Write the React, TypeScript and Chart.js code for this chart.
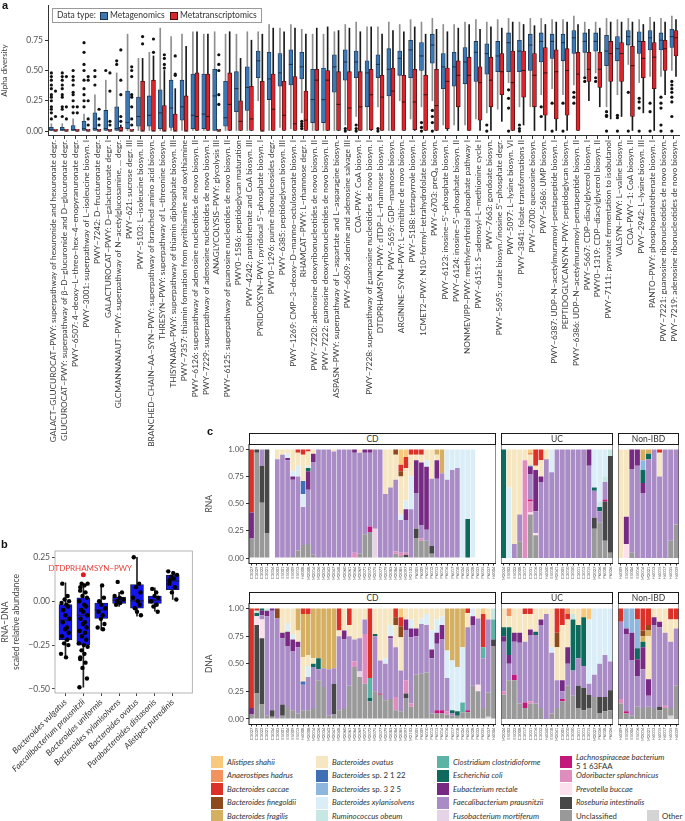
import React, { useEffect, useRef } from "react";
import { Chart, registerables } from "chart.js";

Chart.register(...registerables);
const FONT = "Lato, 'Open Sans', 'DejaVu Sans', sans-serif";
Chart.defaults.font.family = FONT;

// ================= Panel a data =================
const pathways = [
  "GALACT−GLUCUROCAT−PWY: superpathway of hexuronide and hexuronate degr.",
  "GLUCUROCAT−PWY: superpathway of β−D−glucuronide and D−glucuronate degr.",
  "PWY−6507: 4−deoxy−L−threo−hex−4−enopyranuronate degr.",
  "PWY−3001: superpathway of L−isoleucine biosyn. I",
  "PWY−7242: D−fructuronate degr.",
  "GALACTUROCAT−PWY: D−galacturonate degr. I",
  "GLCMANNANAUT−PWY: superpathway of N−acetylglucosamine, ... degr.",
  "PWY−621: sucrose degr. III",
  "PWY−5103: L−isoleucine biosyn. III",
  "BRANCHED−CHAIN−AA−SYN−PWY: superpathway of branched amino acid biosyn.",
  "THRESYN−PWY: superpathway of L−threonine biosyn.",
  "THISYNARA−PWY: superpathway of thiamin diphosphate biosyn. III",
  "PWY−7357: thiamin formation from pyrithiamine and oxythiamine",
  "PWY−6126: superpathway of adenosine nucleotides de novo biosyn. II",
  "PWY−7229: superpathway of adenosine nucleotides de novo biosyn. I",
  "ANAGLYCOLYSIS−PWY: glycolysis III",
  "PWY−6125: superpathway of guanosine nucleotides de novo biosyn. II",
  "PWY0−1586: peptidoglycan maturation",
  "PWY−4242: pantothenate and CoA biosyn. III",
  "PYRIDOXSYN−PWY: pyridoxal 5'−phosphate biosyn. I",
  "PWY0−1296: purine ribonucleosides degr.",
  "PWY−6385: peptidoglycan biosyn. III",
  "PWY−1269: CMP−3−deoxy−D−manno−octulosonate biosyn. I",
  "RHAMCAT−PWY: L−rhamnose degr. I",
  "PWY−7220: adenosine deoxyribonucleotides de novo biosyn. II",
  "PWY−7222: guanosine deoxyribonucleotides de novo biosyn. II",
  "ASPASN−PWY: superpathway of L−aspartate and L−asparagine biosyn.",
  "PWY−6609: adenine and adenosine salvage III",
  "COA−PWY: CoA biosyn. I",
  "PWY−7228: superpathway of guanosine nucleotides de novo biosyn. I",
  "DTDPRHAMSYN−PWY: dTDP−L−rhamnose biosyn. I",
  "PWY−5659: GDP−mannose biosyn.",
  "ARGININE−SYN4−PWY: L−ornithine de novo biosyn.",
  "PWY−5188: tetrapyrrole biosyn. I",
  "1CMET2−PWY: N10−formyl−tetrahydrofolate biosyn.",
  "PWY−6703: preQ₀ biosyn.",
  "PWY−6123: inosine−5'−phosphate biosyn. I",
  "PWY−6124: inosine−5'−phosphate biosyn. II",
  "NONMEVIPP−PWY: methylerythritol phosphate pathway I",
  "PWY−6151: S−adenosyl−L−methionine cycle I",
  "PWY−7663: gondoate biosyn.",
  "PWY−5695: urate biosyn./inosine 5'−phosphate degr.",
  "PWY−5097: L−lysine biosyn. VI",
  "PWY−3841: folate transformations II",
  "PWY−6700: queuosine biosyn.",
  "PWY−5686: UMP biosyn.",
  "PWY−6387: UDP−N−acetylmuramoyl−pentapeptide biosyn. I",
  "PEPTIDOGLYCANSYN−PWY: peptidoglycan biosyn.",
  "PWY−6386: UDP−N−acetylmuramoyl−pentapeptide biosyn. II",
  "PWY−5667: CDP−diacylglycerol biosyn. I",
  "PWY0−1319: CDP−diacylglycerol biosyn. II",
  "PWY−7111: pyruvate fermentation to isobutanol",
  "VALSYN−PWY: L−valine biosyn.",
  "COA−PWY−1: CoA biosyn. II",
  "PWY−2942: L−lysine biosyn. III",
  "PANTO−PWY: phosphopantothenate biosyn. I",
  "PWY−7221: guanosine ribonucleotides de novo biosyn.",
  "PWY−7219: adenosine ribonucleotides de novo biosyn.",
];

// Metagenomics box stats
const mgQ1 = [0,0,0,0,0,0,0,.02,.04,.04, .02,.03,.09,.02,.02,0,.04,.16,.17,.44, .26,.37,.38,.43,.07,.07,.32,.42,.44,.2, .44,.29,.46,.44,.5,.56,.35,.37,.39,.41, .47,.49,.49,.49,.5,.57,.6,.58,.64,.65, .66,.54,.58,.71,.64,.67,.67,.69];
const mgMed = [.01,.01,.01,.02,.02,.02,.02,.07,.12,.13, .15,.19,.2,.13,.14,.29,.11,.35,.36,.58, .43,.48,.55,.53,.26,.26,.53,.57,.57,.48, .55,.51,.6,.67,.62,.71,.53,.53,.57,.65, .64,.62,.73,.66,.71,.74,.74,.73,.77,.74, .74,.66,.68,.78,.74,.77,.75,.78];
const mgQ3 = [.03,.03,.045,.08,.15,.17,.2,.33,.28,.29, .34,.42,.42,.47,.47,.51,.41,.49,.53,.66, .65,.64,.67,.65,.51,.52,.63,.67,.66,.58, .63,.68,.66,.75,.73,.8,.64,.65,.69,.74, .72,.74,.81,.75,.8,.81,.8,.8,.83,.81, .81,.79,.78,.83,.82,.83,.81,.84];
const mgLo = [0,0,0,0,0,0,0,0,0,0, 0,0,0,0,0,0,0,0,0,.25, 0,.03,.02,.15,0,0,0,.05,.12,0, .2,0,.25,.1,.2,.25,.05,.05,.05,.1, .15,.18,.4,.2,.2,.3,.35,.3,.38,.45, .48,.2,.3,.55,.4,.45,.45,.5];
const mgHi = [.06,.06,.1,.14,.3,.42,.48,.8,.6,.65, .85,.78,.8,.82,.8,.82,.8,.8,.82,.82, .88,.85,.88,.84,.8,.8,.82,.88,.9,.86, .86,.9,.88,.92,.9,.93,.88,.88,.9,.92, .9,.92,.93,.9,.93,.93,.92,.92,.95,.9, .9,.93,.92,.93,.92,.94,.93,.95];

// Metatranscriptomics box stats
const mtQ1 = [0,0,0,0,0,0,0,0,0,0, 0,0,0,0,0,0,0,0,0,0, 0,0,0,0,0,0,0,0,0,.01, 0,0,0,.01,0,0,.02,.2,0,.09, .2,.3,0,.28,.2,.13,.1,.13,0,.41, .36,.41,.41,.12,.44,.35,.5,.62];
const mtMed = [0,0,0,0,0,0,0,0,0,0, 0,0,0,.12,.12,0,.22,.08,.1,0, .18,.13,.06,.09,.42,.42,.22,.19,.2,.3, .28,.33,.24,.24,.3,.21,.41,.46,.46,.4, .42,.49,.4,.5,.46,.48,.49,.5,.47,.51, .51,.64,.64,.54,.6,.61,.68,.77];
const mtQ3 = [.015,.015,.015,.015,.015,.015,.03,.015,.41,.42, .21,.14,.29,.48,.47,.015,.48,.25,.37,.41, .47,.41,.45,.33,.51,.5,.49,.49,.49,.51, .46,.52,.46,.51,.46,.51,.52,.58,.61,.53, .61,.64,.66,.66,.64,.69,.67,.68,.65,.65, .65,.74,.73,.7,.74,.73,.75,.83];
const mtLo = [0,0,0,0,0,0,0,0,0,0, 0,0,0,0,0,0,0,0,0,0, 0,0,0,0,0,0,0,0,0,0, 0,0,0,0,0,0,0,0,0,0, 0,.08,0,.05,0,0,0,0,0,.25, .2,.1,.12,0,.15,0,.3,.45];
const mtHi = [0,0,0,0,0,0,.05,0,.6,.62, .5,.35,.7,.82,.8,0,.82,.6,.75,.8, .85,.82,.85,.8,.85,.86,.83,.85,.82,.86, .8,.83,.82,.86,.8,.84,.82,.85,.88,.84, .86,.85,.9,.88,.87,.88,.9,.9,.88,.84, .85,.9,.9,.9,.88,.9,.9,.92];

// outliers: [pathway index, value]
const mgOutliers: [number, number][] = [
  [0,.1],[0,.15],[0,.18],[0,.2],[0,.25],[0,.28],[0,.3],[0,.35],[0,.38],[0,.42],[0,.45],[0,.48],
  [1,.12],[1,.18],[1,.2],[1,.28],[1,.3],[1,.35],[1,.38],[1,.42],[1,.45],[1,.48],
  [2,.15],[2,.2],[2,.25],[2,.3],[2,.32],[2,.38],[2,.42],[2,.45],[2,.5],
  [3,.2],[3,.25],[3,.3],[3,.35],[3,.42],[3,.5],[3,.55],[3,.65],[3,.73],
  [4,.38],[4,.45],[4,.5],[5,.5],[6,.55],[6,.58],
  [23,.08],[23,.06],[23,.04],[23,.02],
  [27,.02],[27,0],[28,.05],[28,.02],[28,0],[30,.02],[30,0],[34,.07],[34,.03],[34,0],
  [35,.17],[35,.12],[35,.07],[35,0],[40,.05],[40,0],[42,.34],[42,.27],[42,.19],[42,0],
  [43,.05],[43,.02],[43,0],[45,.2],[45,.12],[46,.23],[46,0],[47,.23],[47,0],
  [48,.32],[48,.28],[48,.23],[49,.44],[49,.41],[50,.44],[50,.41],
  [51,.16],[51,.13],[51,.12],[51,0],[52,.13],[52,.11],[52,0],[53,.32],[53,0],
  [54,.27],[54,.24],[54,.19],[54,0],[55,.23],[55,.16],[55,0],
  [56,.28],[56,.23],[56,.19],[56,.05],[56,0],
  [57,.41],[57,.38],[57,.35],[57,.32],[57,.28],[57,.24],[57,.12],[57,0],
];
const mtOutliers: [number, number][] = [
  [0,.33],[0,.12],[1,.45],[1,.2],[1,.1],[2,.2],[2,.15],
  [3,.45],[3,.42],[3,.25],[3,.1],[3,.05],[4,.18],[4,.1],[4,.05],
  [5,.48],[5,.33],[5,.08],[5,.05],[6,.67],[6,.42],[6,.3],[6,.12],[6,.08],
  [7,.53],[7,.5],[7,.45],[7,.3],[7,.28],[7,.2],[7,.1],[7,.05],
  [8,.78],[8,.72],[9,.76],[9,.65],[10,.63],[10,.6],[10,.55],[10,.52],
  [11,.62],[11,.47],[11,.46],[15,.63],[15,.55],[15,.5],[15,.3],[15,.22],
];

// ================= Panel b data =================
const speciesB = [
  "Bacteroides vulgatus",
  "Faecalibacterium prausnitzii",
  "Bacteroides uniformis",
  "Bacteroides xylanisolvens",
  "Bacteroides ovatus",
  "Parabacteroides distasonis",
  "Alistipes putredinis",
];
const bQ1 = [-.22, -.25, -.098, -.013, -.04, -.013, .066];
const bMed = [-.108, -.08, -.05, .006, .002, .006, .116];
const bQ3 = [-.019, .019, -.01, .023, .095, .029, .148];
const bLo = [-.326, -.49, -.165, -.03, -.085, -.057, .01];
const bHi = [.104, .1, .09, .05, .25, .076, .17];
const bPoints: number[][] = [
  [.1, .03, .01, 0, -.01, -.02, -.03, -.05, -.08, -.1, -.12, -.15, -.16, -.18, -.2, -.22, -.24, -.25, -.3, -.32],
  [.1, .1, .09, .08, .06, .05, .03, .02, 0, -.02, -.03, -.05, -.06, -.08, -.1, -.12, -.13, -.15, -.17, -.18, -.2, -.22, -.24, -.25, -.26, -.28, -.3, -.32, -.33, -.35, -.38, -.44, -.49],
  [.09, .02, 0, -.02, -.04, -.06, -.08, -.1, -.13, -.15, -.16],
  [.11, .05, .03, .02, .01, 0, -.01, -.02],
  [.25, .1, .08, .05, .02, 0, -.02, -.04, -.06, -.08],
  [.07, .05, .03, .02, 0, -.02, -.03, -.06],
  [.17, .16, .15, .14, .13, .12, .1, .08, .05, .01],
];
const bJitter = [-.18, .12, -.05, .2, -.22, .05, .15, -.12, 0, .22, -.15, .08, -.02, .18, -.2, .1, -.08, .16, -.25, .03, .24, -.1, .06, -.17];
const bHighlight = { label: "DTDPRHAMSYN−PWY", x: 1, y: .15, textX: 1.39, textY: .186 };

// ================= Panel c data =================
type Comp = Record<string, number> | null;
const SPECIES: Record<string, [string, string]> = {
  AS: ["Alistipes shahii", "#f8c87c"],
  AH: ["Anaerostipes hadrus", "#f2925e"],
  BC: ["Bacteroides caccae", "#dc3129"],
  BFi: ["Bacteroides finegoldii", "#8d4a1c"],
  BFr: ["Bacteroides fragilis", "#d6b062"],
  BO: ["Bacteroides ovatus", "#f6e7c2"],
  B2: ["Bacteroides sp. 2 1 22", "#3f6fb5"],
  B3: ["Bacteroides sp. 3 2 5", "#8db7dc"],
  BX: ["Bacteroides xylanisolvens", "#dbeef7"],
  RO: ["Ruminococcus obeum", "#c6e7e2"],
  CC: ["Clostridium clostridioforme", "#5bb3a6"],
  EC: ["Escherichia coli", "#0e6a5c"],
  ER: ["Eubacterium rectale", "#762a83"],
  FP: ["Faecalibacterium prausnitzii", "#a98bc5"],
  FM: ["Fusobacterium mortiferum", "#e7d3e8"],
  LB: ["Lachnospiraceae bacterium 5 1 63FAA", "#c4177c"],
  OS: ["Odoribacter splanchnicus", "#df8cbf"],
  PB: ["Prevotella buccae", "#fce0ee"],
  RI: ["Roseburia intestinalis", "#474747"],
  UN: ["Unclassified", "#999999"],
  OT: ["Other", "#d4d4d4"],
};
const STACK_ORDER = ["OT","UN","RI","PB","OS","LB","FM","FP","ER","EC","CC","RO","BX","B3","B2","BO","BFr","BFi","BC","AH","AS"];
const LEGEND_COLS = [["AS","AH","BC","BFi","BFr"],["BO","B2","B3","BX","RO"],["CC","EC","ER","FP","FM"],["LB","OS","PB","RI","UN"]];

const cdSamples = ["C3027","C3029","C3022","C3021","C3034","C3003","E5001","E5004","E5009","E5013","H4008","M2008","M2014","M2026","M2034","M2042","M2047","M2048","M2060","M2061","M2064","M2069","M2071","M2072","M2075","M2077","M2079","M2083","M2084","M2085","M2097","M2103","P6005","P6009","P6010","P6012","P6013","P6014","P6016","P6017","P6018","P6024","P6025","P6028","P6033","P6035","P6037","H4004"];
const ucSamples = ["M2024","E5002","E5022","C3008","C3017","C3031","C3016","C3032","H4040","E5018","M2041","C3005","C3010","C3030","C3011","C3013","C3015","M2027","P6036","P6038","P6026"];
const niSamples = ["H4009","E5020","E5004","E5016","M2014","M2021","H4013","H4015","H4017","H4035","H4039"];

const rnaCD: Comp[] = [
  {UN:.18,ER:.24,BC:.58},{UN:.97,RI:.03},{UN:.51,RI:.34,FP:.15},{UN:.23,RI:.77},null,
  {FP:.91,BO:.09},{FP:.95,BO:.05},{FP:.9,ER:.02,BX:.04,BO:.04},{UN:.02,FP:.7,ER:.03,BX:.05,BO:.2},
  {UN:.07,FP:.68,BX:.1,BO:.12,BC:.03},{UN:.12,FP:.35,BX:.12,B2:.12,BO:.24,BC:.05},
  {UN:.13,FP:.5,ER:.17,EC:.03,BX:.02,BO:.13,BC:.02},{UN:.03,FP:.85,ER:.08,BO:.04},
  {FP:1},{FP:1},{FP:1},{FP:.98,BO:.02},{FP:1},{FP:1},{FP:1},
  {OS:.05,FP:.92,ER:.03},{UN:.04,FP:.93,BO:.03},{UN:.22,FP:.75,ER:.03},{UN:.24,LB:.05,FP:.68,ER:.03},
  {FM:.27,FP:.73},{FP:1},{FP:.59,BO:.41},{FP:.65,BO:.35},{UN:.04,OS:.02,FP:.66,BFi:.05,BO:.23},
  {UN:.02,OS:.03,FP:.3,BX:.05,BO:.35,BFi:.05,BC:.06,AS:.14},
  {UN:.01,RI:.02,OS:.02,FP:.3,ER:.1,BX:.08,BO:.3,BC:.1,AS:.07},
  {FP:.45,BX:.3,BO:.2,BC:.05},{UN:.18,RI:.09,FP:.33,ER:.3,BO:.05,BC:.05},
  {UN:.16,OS:.02,FP:.12,ER:.58,BO:.07,BC:.05},{UN:.16,FP:.1,ER:.58,BX:.06,BO:.1},
  {UN:.04,RI:.07,FP:.62,BO:.27},{FP:.73,ER:.17,BO:.05,BFr:.05},{FP:.78,BFr:.22},
  {FP:.72,BX:.28},{FP:.81,BX:.19},{FP:.83,BX:.17},{BX:1},{EC:.36,BX:.64},{BX:1},
  null,null,null,null,
];
const rnaUC: Comp[] = [
  {EC:1},{BX:.65,BO:.35},{FP:.13,BO:.87},{UN:.15,FP:.25,BO:.6},{OS:.9,BO:.1},
  {UN:.4,PB:.02,OS:.1,LB:.02,FP:.23,ER:.07,B2:.01,BO:.1,AH:.02,AS:.03},
  {UN:.21,PB:.02,FP:.2,ER:.38,BO:.04,BC:.15},{FP:.7,ER:.05,BO:.15,BC:.1},{FP:.91,BO:.09},
  {FP:.79,BX:.21},{FP:1},{FP:1},{FP:1},{FP:1},{FP:1},{FP:1},{FP:.85,ER:.15},
  {UN:.27,RI:.1,FP:.25,EC:.03,BX:.35},{UN:.33,FP:.1,EC:.04,RO:.05,BX:.48},
  {UN:.16,RI:.36,LB:.02,FP:.16,RO:.05,BX:.25},{UN:.05,RI:.89,RO:.06},
];
const rnaNI: Comp[] = [
  {BO:1},{PB:.13,ER:.25,BO:.62},{UN:.05,FP:.77,ER:.18},{FP:.85,ER:.15},
  {FP:.6,ER:.09,EC:.12,B3:.09,BFr:.1},{FP:.91,EC:.05,BFr:.04},{FP:1},
  {FP:.75,BO:.22,BC:.03},{FP:1},{UN:.16,FP:.84},{UN:.31,FP:.69},
];
const dnaCD: Comp[] = [
  {UN:.04,ER:.06,BC:.9},{UN:.23,RI:.62,PB:.08,EC:.03,RO:.02,BC:.02},{UN:.13,RI:.6,PB:.17,FP:.04,ER:.04,EC:.02},
  {UN:.03,FP:.9,ER:.05,RO:.02},{UN:.02,RI:.06,FP:.9,ER:.02},{FP:.91,BFi:.09},
  {UN:.03,RI:.1,FP:.6,ER:.05,BO:.22},{UN:.1,FP:.56,ER:.13,BX:.08,BO:.13},{UN:.08,FP:.53,ER:.11,BX:.05,BO:.23},
  {UN:.05,FP:.6,ER:.05,BO:.1,BFr:.2},{UN:.08,FP:.23,B2:.03,BO:.22,BFr:.39,BC:.05},{UN:.08,FP:.3,BX:.1,BO:.1,BFr:.37,BC:.05},
  {UN:.1,FP:.37,EC:.03,BO:.05,BFr:.45},{UN:.35,FP:.1,EC:.1,BFr:.45},{UN:.29,FP:.17,BFr:.54},
  {UN:.03,FP:.42,BFr:.55},{UN:.04,RI:.28,FP:.14,BFr:.54},{UN:.08,FP:.67,BO:.05,BC:.2},
  {UN:.1,FP:.62,ER:.08,BO:.2},{UN:.3,FP:.45,BO:.1,BC:.15},{UN:.47,OS:.05,FP:.2,BO:.28},
  {UN:.38,FM:.05,FP:.3,BO:.27},{UN:.32,OS:.45,FP:.13,BO:.1},{UN:.16,EC:.03,CC:.18,BC:.63},
  {UN:.25,EC:.02,FP:.5,BO:.23},{UN:.22,LB:.01,FP:.3,BO:.47},{UN:.17,FP:.33,BX:.05,BO:.45},
  {UN:.18,FP:.55,ER:.02,BX:.1,BO:.15},{UN:.08,OS:.12,FP:.45,BO:.2,BFi:.07,BC:.08},{UN:.07,FP:.37,BO:.3,BFi:.1,BC:.08,AS:.08},
  {UN:.19,RI:.04,OS:.12,FP:.45,ER:.1,BO:.1},{UN:.11,OS:.03,FP:.6,ER:.08,BX:.08,BO:.1},{UN:.4,FP:.35,ER:.07,BO:.18},
  {UN:.41,FP:.45,BX:.05,BO:.09},{UN:.42,FP:.43,BX:.1,BO:.05},{UN:.05,FP:.5,ER:.08,BX:.17,BO:.2},
  {UN:.05,LB:.03,FP:.6,ER:.1,BX:.12,BO:.1},{UN:.05,LB:.03,FP:.64,ER:.13,BX:.08,BO:.07},{UN:.04,OS:.03,FP:.3,BX:.25,BFr:.38},
  {UN:.03,EC:.03,FP:.02,BX:.45,BFr:.47},{UN:.03,EC:.04,BX:.4,BFr:.53},{UN:.06,CC:.09,BX:.5,BFr:.35},
  {UN:.06,LB:.02,FP:.75,BO:.13,BC:.04},{UN:.3,FP:.55,ER:.08,BX:.07},{UN:.25,PB:.06,FP:.6,BO:.09},
  {UN:.1,FP:.45,CC:.1,BC:.3,AS:.05},{OT:.02,UN:.22,FP:.66,BO:.1},{UN:.66,RI:.06,CC:.18,RO:.1},
];
const dnaUC: Comp[] = [
  {UN:.22,OS:.03,FP:.45,ER:.05,EC:.08,BO:.17},{UN:.35,FP:.15,ER:.08,EC:.25,BO:.1,AH:.07},{UN:.35,LB:.05,FP:.3,ER:.08,BO:.22},
  {UN:.14,FP:.55,ER:.09,BO:.22},{UN:.1,LB:.05,FP:.55,BO:.25,BC:.05},{UN:.14,OS:.02,FP:.6,ER:.05,BO:.14,BC:.05},
  {UN:.14,FP:.62,EC:.03,BO:.21},{UN:.1,FP:.75,ER:.05,BO:.1},{FP:.95,BO:.05},
  {UN:.05,FP:.55,BX:.05,BO:.35},{UN:.1,FP:.25,BO:.3,BFi:.13,BC:.22},{UN:.16,LB:.02,FP:.07,ER:.1,BO:.5,BC:.15},
  {UN:.3,FP:.2,ER:.15,BO:.25,BC:.05,AH:.05},{UN:.21,FP:.23,EC:.46,RO:.05,BO:.05},{UN:.1,RI:.2,FP:.25,EC:.3,BO:.15},
  {UN:.08,RI:.2,FP:.2,EC:.44,AS:.08},{UN:.1,RI:.12,FP:.1,BX:.58,AS:.1},{UN:.2,FP:.2,BX:.6},
  {UN:.05,RI:.15,FP:.3,BX:.5},{UN:.07,RI:.13,FP:.38,BX:.42},{UN:.08,RI:.18,FP:.26,BX:.48},
];
const dnaNI: Comp[] = [
  {UN:.14,OS:.04,FP:.7,BC:.12},{UN:.05,LB:.02,FP:.7,ER:.05,B3:.18},{UN:.03,FP:.5,ER:.25,B3:.22},
  {UN:.11,FP:.28,ER:.15,EC:.1,B3:.26,BC:.1},{UN:.1,FP:.35,ER:.2,EC:.05,BFr:.05,BFi:.05,BC:.2},
  {UN:.11,FP:.1,ER:.15,BO:.39,BFr:.05,BFi:.05,BC:.15},{UN:.1,FP:.75,ER:.07,BO:.08},
  {UN:.08,RI:.03,FP:.72,ER:.05,BO:.12},{UN:.1,OS:.02,FP:.66,BO:.22},
  {OT:.03,UN:.07,FP:.6,BO:.2,BC:.1},{UN:.3,FP:.52,BO:.08,BC:.1},
];

// ================= helpers =================
const framePlugin = (color: string, lw: number) => ({
  id: "frame",
  afterDatasetsDraw(chart: any) {
    const { ctx, chartArea: a } = chart;
    ctx.save();
    ctx.strokeStyle = color;
    ctx.lineWidth = lw;
    ctx.strokeRect(a.left, a.top, a.right - a.left, a.bottom - a.top);
    ctx.restore();
  },
});

function ChartBox({ left, top, width, height, build }: { left: number; top: number; width: number; height: number; build: () => any }) {
  const ref = useRef<HTMLCanvasElement | null>(null);
  useEffect(() => {
    const chart = new Chart(ref.current as HTMLCanvasElement, build());
    return () => chart.destroy();
  }, []);
  return <canvas ref={ref} width={width} height={height} style={{ position: "absolute", left, top, width, height }} />;
}

function boxSets(offset: number, q1: number[], med: number[], q3: number[], lo: number[], hi: number[], fill: string, edge: string, whisk: string, width: number) {
  const xs = q1.map((_, i) => i + offset);
  return [
    { type: "bar", data: xs.map((x, i) => ({ x, y: [lo[i], hi[i]] })), backgroundColor: whisk, barThickness: 1, grouped: false, order: 5, borderWidth: 0 },
    { type: "bar", data: xs.map((x, i) => ({ x, y: [q1[i], q3[i]] })), backgroundColor: fill, borderColor: edge, borderWidth: 0.8, borderSkipped: false, barThickness: width, grouped: false, order: 4 },
    { type: "scatter", data: xs.map((x, i) => ({ x, y: med[i] })), pointStyle: "line", pointRadius: width / 2, borderColor: edge, borderWidth: 1.1, order: 2 },
  ];
}

const OFF = 0.19;

function panelA() {
  const idx = pathways.map((_, i) => i);
  return {
    type: "bar",
    data: {
      datasets: [
        ...boxSets(-OFF, mgQ1, mgMed, mgQ3, mgLo, mgHi, "#3b78b4", "#1b3450", "#8f8f8f", 4),
        ...boxSets(OFF, mtQ1, mtMed, mtQ3, mtLo, mtHi, "#d9262c", "#4d0d0d", "#1a1a1a", 4),
        { type: "scatter", data: mgOutliers.map(([c, v]) => ({ x: c - OFF, y: v })), pointRadius: 1.6, backgroundColor: "#111", borderWidth: 0, order: 1 },
        { type: "scatter", data: mtOutliers.map(([c, v]) => ({ x: c + OFF, y: v })), pointRadius: 1.6, backgroundColor: "#111", borderWidth: 0, order: 1 },
      ],
    },
    options: {
      responsive: false, animation: false, events: [],
      layout: { padding: { top: 5, right: 2, left: 0, bottom: 0 } },
      plugins: { legend: { display: false }, tooltip: { enabled: false } },
      scales: {
        x: {
          type: "linear", min: -0.5, max: 57.55, bounds: "data", offset: false,
          grid: { drawOnChartArea: false, tickLength: 3, color: "#333", offset: false },
          border: { display: true, color: "#333" },
          ticks: { autoSkip: false, minRotation: 90, maxRotation: 90, padding: 1, color: "#3a3a3a", font: { size: 8.3 }, callback: (v: any) => pathways[v] ?? "" },
          afterBuildTicks: (s: any) => { s.ticks = idx.map((value) => ({ value })); },
          afterFit: (s: any) => { s.height = 314; s.paddingLeft = 0; s.paddingRight = 0; },
        },
        y: {
          min: -0.041, max: 1.04, bounds: "data",
          grid: { drawOnChartArea: false, tickLength: 3, color: "#333" },
          border: { display: true, color: "#333" },
          ticks: { padding: 2, color: "#555", font: { size: 8.5 }, callback: (v: any) => Number(v).toFixed(2) },
          afterBuildTicks: (s: any) => { s.ticks = [0, .25, .5, .75].map((value) => ({ value })); },
          title: { display: true, text: "Alpha diversity", color: "#444", font: { size: 8 }, padding: { top: 0, bottom: 0 } },
          afterFit: (s: any) => { s.width = 48; s.paddingTop = 0; s.paddingBottom = 0; },
        },
      },
    },
  };
}

function panelB() {
  const pts: { x: number; y: number }[] = [];
  let j = 0;
  bPoints.forEach((arr, c) => arr.forEach((v) => { pts.push({ x: c + bJitter[j % bJitter.length], y: v }); j++; }));
  const annotate = {
    id: "annot",
    afterDatasetsDraw(chart: any) {
      const { ctx, scales } = chart;
      ctx.save();
      ctx.font = `8px ${FONT}`;
      ctx.fillStyle = "#e8403a";
      ctx.textAlign = "center";
      ctx.textBaseline = "middle";
      ctx.fillText(bHighlight.label, scales.x.getPixelForValue(bHighlight.textX), scales.y.getPixelForValue(bHighlight.textY));
      ctx.restore();
    },
  };
  return {
    type: "bar",
    data: {
      datasets: [
        ...boxSets(0, bQ1, bMed, bQ3, bLo, bHi, "#1414ec", "#1a1a40", "#222", 13),
        { type: "scatter", data: pts, pointRadius: 2.2, backgroundColor: "#000", borderWidth: 0, order: 1 },
        { type: "scatter", data: [{ x: bHighlight.x, y: bHighlight.y }], pointRadius: 2.5, backgroundColor: "#e41a1c", borderWidth: 0, order: 0 },
      ],
    },
    options: {
      responsive: false, animation: false, events: [],
      layout: { padding: { top: 11, right: 5, left: 0, bottom: 0 } },
      plugins: { legend: { display: false }, tooltip: { enabled: false } },
      scales: {
        x: {
          type: "linear", min: -0.587, max: 7.1, bounds: "data", offset: false,
          grid: { drawOnChartArea: false, tickLength: 3, color: "#444", offset: false },
          border: { display: false },
          ticks: { autoSkip: false, minRotation: 45, maxRotation: 45, padding: 1, color: "#333", font: { size: 8.5, style: "italic" }, callback: (v: any) => speciesB[v] ?? "" },
          afterBuildTicks: (s: any) => { s.ticks = speciesB.map((_, value) => ({ value })); },
          afterFit: (s: any) => { s.height = 127; s.paddingLeft = 0; s.paddingRight = 0; },
        },
        y: {
          min: -0.523, max: 0.286, bounds: "data",
          grid: { drawOnChartArea: false, tickLength: 3, color: "#444" },
          border: { display: false },
          ticks: { padding: 2, color: "#555", font: { size: 8.5 }, callback: (v: any) => Number(v).toFixed(2).replace("-", "−") },
          afterBuildTicks: (s: any) => { s.ticks = [-.5, -.25, 0, .25].map((value) => ({ value })); },
          title: { display: true, text: ["RNA−DNA", "scaled relative abundance"], color: "#444", font: { size: 8.5, lineHeight: 1.3 }, padding: { top: 0, bottom: 2 } },
          afterFit: (s: any) => { s.width = 55; s.paddingTop = 0; s.paddingBottom = 0; },
        },
      },
    },
    plugins: [framePlugin("#b5b5b5", 1), annotate],
  };
}

function facet(samples: Comp[], labels: string[], showY: boolean, yTitle: string, xHeight: number) {
  return () => ({
    type: "bar",
    data: {
      labels,
      datasets: STACK_ORDER.map((code) => ({
        label: SPECIES[code][0],
        data: samples.map((s) => (s ? s[code] ?? 0 : null)),
        backgroundColor: SPECIES[code][1],
        borderWidth: 0,
        barPercentage: 0.9,
        categoryPercentage: 1,
      })),
    },
    options: {
      responsive: false, animation: false, events: [],
      layout: { padding: 0 },
      plugins: { legend: { display: false }, tooltip: { enabled: false } },
      scales: {
        x: {
          stacked: true,
          grid: { drawOnChartArea: false, tickLength: 2, color: "#333", offset: false },
          border: { display: false },
          ticks: { autoSkip: false, minRotation: 90, maxRotation: 90, padding: 1, color: "#555", font: { size: 4.2 } },
          afterFit: (s: any) => { s.height = xHeight; s.paddingLeft = 0; s.paddingRight = 0; },
        },
        y: {
          stacked: true, display: showY, min: -0.05, max: 1.05, bounds: "data",
          grid: { drawOnChartArea: false, tickLength: 3, color: "#333" },
          border: { display: false },
          ticks: { padding: 2, color: "#555", font: { size: 8 }, callback: (v: any) => Number(v).toFixed(2) },
          afterBuildTicks: (s: any) => { s.ticks = [0, .25, .5, .75, 1].map((value) => ({ value })); },
          title: { display: showY, text: yTitle, color: "#444", font: { size: 8.5 }, padding: { top: 0, bottom: 4 } },
          afterFit: (s: any) => { s.width = showY ? 45 : 0; s.paddingTop = 0; s.paddingBottom = 0; },
        },
      },
    },
    plugins: [framePlugin("#1a1a1a", 1)],
  });
}

const Strip = ({ left, top, width, text }: { left: number; top: number; width: number; text: string }) => (
  <div style={{ position: "absolute", left, top, width, height: 12, boxSizing: "border-box", border: "1px solid #1a1a1a", background: "#fff", fontSize: 8.5, lineHeight: "10px", textAlign: "center", color: "#333" }}>{text}</div>
);

function legendName(code: string) {
  if (code === "B2") return <><i>Bacteroides</i> sp. 2 1 22</>;
  if (code === "B3") return <><i>Bacteroides</i> sp. 3 2 5</>;
  if (code === "LB") return <span style={{ display: "inline-block", lineHeight: "9px" }}><i>Lachnospiraceae bacterium</i><br />5 1 63FAA</span>;
  if (code === "UN" || code === "OT") return <>{SPECIES[code][0]}</>;
  return <i>{SPECIES[code][0]}</i>;
}

const legendCols = [{ sq: 211, tx: 227 }, { sq: 316, tx: 332 }, { sq: 437, tx: 453 }, { sq: 560, tx: 576 }];
const legendRows = [762, 775.6, 789.2, 802.8, 816.4];

export default function App() {
  const cLabel = { position: "absolute" as const, fontWeight: 700, fontSize: 11, fontFamily: "'Liberation Sans', Arial, sans-serif", color: "#111" };
  return (
    <div style={{ position: "absolute", left: 0, top: 0, width: 685, height: 821, overflow: "hidden", background: "#fff", fontFamily: FONT, color: "#333" }}>
      {/* Panel a */}
      <ChartBox left={0} top={0} width={685} height={450} build={panelA} />
      <div style={{ ...cLabel, left: 2, top: -1 }}>a</div>
      <div style={{ position: "absolute", left: 52, top: 8, width: 210, height: 15, boxSizing: "border-box", border: "1px solid #9a9a9a", background: "#fff", fontSize: 8.5 }}>
        <span style={{ position: "absolute", left: 4, top: 1 }}>Data type:</span>
        <span style={{ position: "absolute", left: 47, top: 2.5, width: 8, height: 8, background: "#3b78b4", border: "1px solid #1b3450", boxSizing: "border-box" }} />
        <span style={{ position: "absolute", left: 57, top: 1 }}>Metagenomics</span>
        <span style={{ position: "absolute", left: 117, top: 2.5, width: 8, height: 8, background: "#d9262c", border: "1px solid #4d0d0d", boxSizing: "border-box" }} />
        <span style={{ position: "absolute", left: 127, top: 1 }}>Metatranscriptomics</span>
      </div>

      {/* Panel b */}
      <ChartBox left={0} top={540} width={200} height={280} build={panelB} />
      <div style={{ ...cLabel, left: 1, top: 538 }}>b</div>

      {/* Panel c */}
      <div style={{ ...cLabel, left: 207, top: 425 }}>c</div>
      <ChartBox left={204} top={444} width={292} height={140} build={facet(rnaCD, cdSamples, true, "RNA", 20.5)} />
      <ChartBox left={501} top={444} width={112} height={140} build={facet(rnaUC, ucSamples, false, "", 20.5)} />
      <ChartBox left={618} top={444} width={61} height={140} build={facet(rnaNI, niSamples, false, "", 20.5)} />
      <Strip left={249} top={433} width={247} text="CD" />
      <Strip left={501} top={433} width={112} text="UC" />
      <Strip left={618} top={433} width={61} text="Non-IBD" />

      <ChartBox left={204} top={603} width={292} height={145} build={facet(dnaCD, cdSamples, true, "DNA", 23.5)} />
      <ChartBox left={501} top={603} width={112} height={145} build={facet(dnaUC, ucSamples, false, "", 23.5)} />
      <ChartBox left={618} top={603} width={61} height={145} build={facet(dnaNI, niSamples, false, "", 23.5)} />
      <Strip left={249} top={592} width={247} text="CD" />
      <Strip left={501} top={592} width={112} text="UC" />
      <Strip left={618} top={592} width={61} text="Non-IBD" />

      {/* Panel c legend */}
      {LEGEND_COLS.map((col, ci) =>
        col.map((code, ri) => (
          <React.Fragment key={code}>
            <div style={{ position: "absolute", left: legendCols[ci].sq, top: legendRows[ri] - 6, width: 12, height: 12, background: SPECIES[code][1] }} />
            <div style={{ position: "absolute", left: legendCols[ci].tx, top: legendRows[ri] - (code === "LB" ? 9.5 : 5.5), fontSize: 7.8, lineHeight: "11px", whiteSpace: "nowrap", color: "#333" }}>{legendName(code)}</div>
          </React.Fragment>
        ))
      )}
      <div style={{ position: "absolute", left: 647, top: legendRows[4] - 6, width: 12, height: 12, background: SPECIES.OT[1] }} />
      <div style={{ position: "absolute", left: 662, top: legendRows[4] - 5.5, fontSize: 7.8, lineHeight: "11px", whiteSpace: "nowrap" }}>{legendName("OT")}</div>
    </div>
  );
}
